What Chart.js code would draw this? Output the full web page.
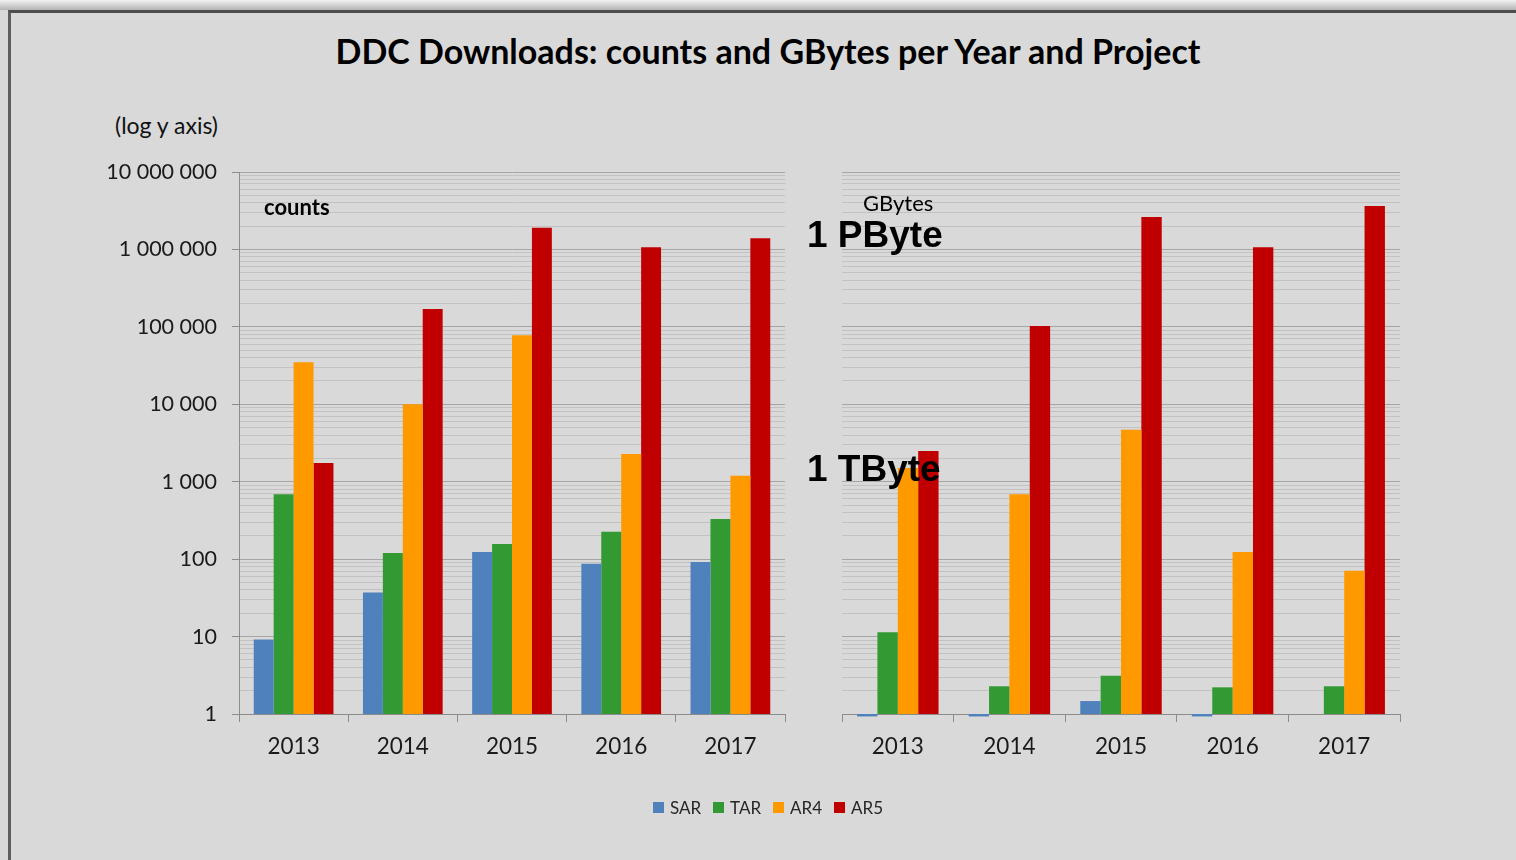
<!DOCTYPE html>
<html>
<head>
<meta charset="utf-8">
<title>DDC Downloads</title>
<script src="https://cdn.jsdelivr.net/npm/chart.js@4.4.1/dist/chart.umd.min.js"></script>
<style>
  html, body { margin: 0; padding: 0; }
  body {
    width: 1516px; height: 860px; position: relative; overflow: hidden;
    background: #d9d9d9; font-family: Lato, "Open Sans", sans-serif;
  }
  #shade { position: absolute; left: 0; top: 0; width: 1516px; height: 10px;
    background: linear-gradient(#f2f2f2, #b4b4b4); }
  #frame { position: absolute; left: 8px; top: 10px; width: 1540px; height: 900px;
    border-top: 3px solid #4d4d4d; border-left: 3px solid #5e5e5e; }
  #title { position: absolute; left: 0; top: 30px; width: 1536px; text-align: center;
    font-weight: bold; font-size: 34px; color: #000; }
  #logNote { position: absolute; right: calc(1516px - 218px); top: 111px;
    font-size: 23px; color: #111; }
  #legend { position: absolute; left: 0; width: 1536px; top: 797px;
    display: flex; justify-content: center; gap: 12px; font-size: 17px; color: #262626; }
  #legend span { display: flex; align-items: center; }
  #legend i { display: inline-block; width: 11px; height: 11px; margin-right: 6px; }
  canvas { position: absolute; top: 0; }
  #countsChart { left: 0; }
  #gbChart { left: 800px; }
</style>
</head>
<body>
<div id="shade"></div>
<div id="frame"></div>
<div id="title">DDC Downloads: counts and GBytes per Year and Project</div>
<div id="logNote">(log y axis)</div>
<canvas id="countsChart" width="800" height="860"></canvas>
<canvas id="gbChart" width="716" height="860"></canvas>
<div id="legend"></div>

<script>
// categories and series
const years = ['2013', '2014', '2015', '2016', '2017'];
const projects = ['SAR', 'TAR', 'AR4', 'AR5'];
const projectColors = ['#4f81bd', '#339933', '#ff9900', '#c00000'];

// download counts
const countsSAR = [9.2, 37, 124, 87, 92];
const countsTAR = [690, 120, 157, 226, 330];
const countsAR4 = [35000, 10000, 78000, 2280, 1190];
const countsAR5 = [1750, 170000, 1900000, 1070000, 1390000];

// downloaded GBytes
const gbSAR = [0.93, 0.93, 1.47, 0.93, null];
const gbTAR = [11.4, 2.28, 3.12, 2.21, 2.28];
const gbAR4 = [1500, 690, 4700, 124, 71];
const gbAR5 = [2490, 102600, 2620000, 1065000, 3640000];

// log axis: 1 .. 10 000 000, minor lines at 2..9 of each decade
const decades = [1, 10, 100, 1000, 10000, 100000, 1000000];
const yMin = 1;
const yMax = 10000000;

function logTicks() {
    const ticks = [];
    decades.forEach(d => {
        for (let s = 1; s < 10; s++) {
            ticks.push({ value: s * d, major: s === 1 });
        }
    });
    ticks.push({ value: yMax, major: true });
    return ticks;
}

function spaced(v) {
    return String(v).replace(/\B(?=(\d{3})+(?!\d))/g, ' ');
}

function makeDatasets(series) {
    return projects.map((p, i) => ({
        label: p,
        data: series[i],
        backgroundColor: projectColors[i],
        borderWidth: 0,
        categoryPercentage: 0.73,
        barPercentage: 1.0,
        clip: false
    }));
}

const notesPlugin = {
    id: 'notes',
    afterDraw(chart, args, opts) {
        const c = chart.ctx;
        (opts.items || []).forEach(t => {
            c.save();
            c.font = t.font;
            c.fillStyle = '#000';
            c.textBaseline = 'middle';
            c.fillText(t.text, t.x, t.y);
            c.restore();
        });
    }
};

function buildChart(id, series, leftWidth, padRight, showLabels, notes) {
    const ctx = document.getElementById(id).getContext('2d');
    return new Chart(ctx, {
        type: 'bar',
        data: { labels: years, datasets: makeDatasets(series) },
        plugins: [notesPlugin],
        options: {
            responsive: false,
            animation: false,
            layout: { padding: { top: 172, bottom: 96, left: 0, right: padRight } },
            plugins: {
                legend: { display: false },
                tooltip: { enabled: false },
                notes: { items: notes }
            },
            scales: {
                x: {
                    grid: { offset: true, drawOnChartArea: false, tickLength: 8, color: '#8c8c8c' },
                    border: { color: '#8c8c8c', width: 1 },
                    ticks: { font: { family: 'Lato', size: 22.5 }, color: '#1a1a1a', padding: 11 },
                    afterFit: s => { s.height = 50; }
                },
                y: {
                    type: 'logarithmic',
                    min: yMin,
                    max: yMax,
                    afterBuildTicks: s => { s.ticks = logTicks(); },
                    afterFit: s => { s.width = leftWidth; },
                    border: { display: showLabels, color: '#8c8c8c', width: 1 },
                    grid: {
                        color: c => (c.tick && c.tick.major) ? '#a6a6a6' : '#c2c2c2',
                        tickColor: c => (c.tick && c.tick.major) ? '#8c8c8c' : 'rgba(0,0,0,0)',
                        drawTicks: showLabels,
                        tickLength: 7
                    },
                    ticks: {
                        display: showLabels,
                        autoSkip: false,
                        padding: 15,
                        font: { family: 'Lato', size: 21.5 },
                        color: '#1a1a1a',
                        callback: (v, i, ticks) => ticks[i].major ? spaced(v) : ''
                    }
                }
            }
        }
    });
}

buildChart('countsChart', [countsSAR, countsTAR, countsAR4, countsAR5], 239, 15, true, [
    { text: 'counts', x: 264, y: 208, font: 'bold 22px Lato' }
]);

buildChart('gbChart', [gbSAR, gbTAR, gbAR4, gbAR5], 42, 116, false, [
    { text: 'GBytes', x: 63, y: 204, font: '22px Lato' },
    { text: '1 PByte', x: 7, y: 237, font: 'bold 37px "Liberation Sans"' },
    { text: '1 TByte', x: 7, y: 471, font: 'bold 37px "Liberation Sans"' }
]);

// legend
const legend = document.getElementById('legend');
projects.forEach((p, i) => {
    const item = document.createElement('span');
    item.innerHTML = '<i style="background:' + projectColors[i] + '"></i>' + p;
    legend.appendChild(item);
});
</script>
</body>
</html>
